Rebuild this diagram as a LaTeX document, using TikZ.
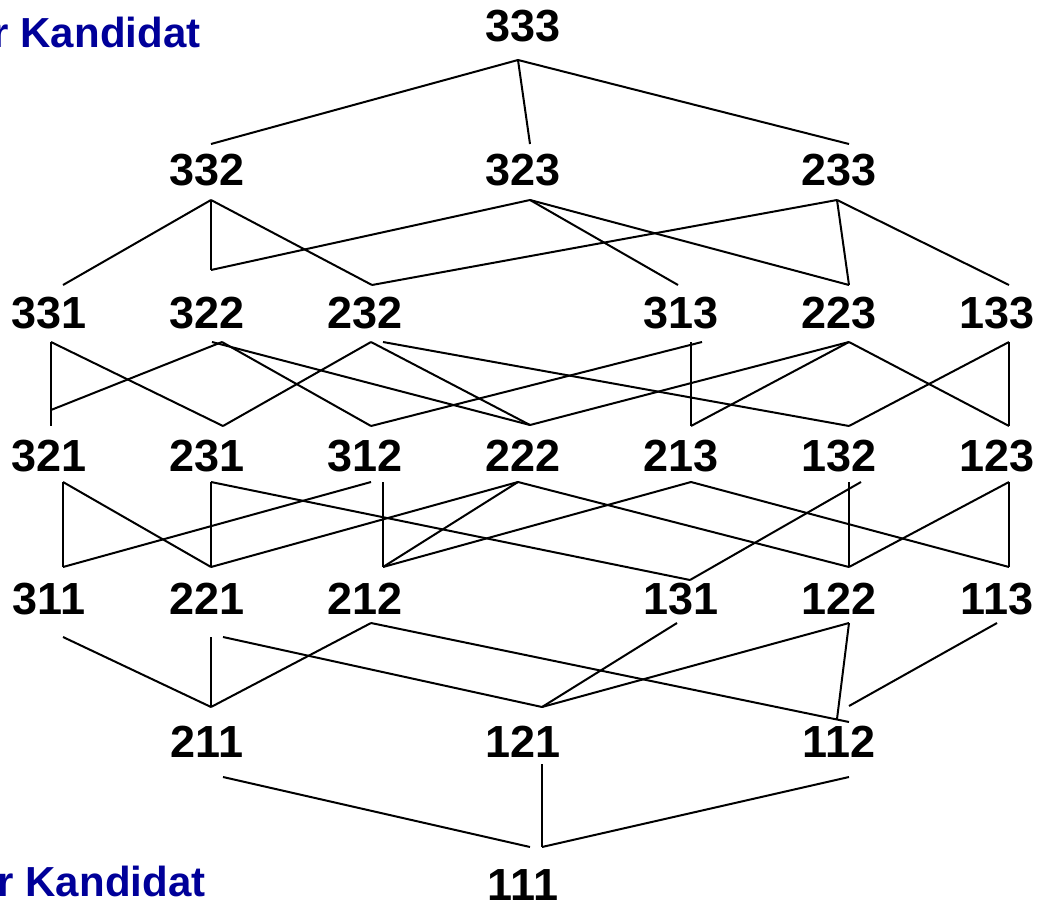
\documentclass[tikz,border=0pt]{standalone}
\usepackage{fontspec}
\setmainfont{Liberation Sans}
\definecolor{kblue}{RGB}{0,0,153}
\newcommand\lnode[7]{%
  \node[num] (n#1) at (#2,#3) {#1};
  \coordinate (t#1) at ([shift={(#4,#5)}]n#1.center);
  \coordinate (b#1) at ([shift={(#6,#7)}]n#1.center);}
\begin{document}
\begin{tikzpicture}[x=1pt,y=-1pt,
  num/.style={font=\fontsize{45}{54}\selectfont\bfseries, inner sep=0pt},
  lbl/.style={font=\fontsize{42}{50}\selectfont\bfseries, text=kblue, inner sep=0pt, anchor=base west},
  edge/.style={line width=2pt, black}]
\useasboundingbox (0,0) rectangle (1039,902);
% blue labels
\node[lbl] (ktop) at (-7.5,47) {r Kandidat};
\node[lbl] (kbot) at (-2.5,896) {r Kandidat};
% row 1
\lnode{333}{523}{26}{0}{0}{-5}{34}
% row 2
\lnode{332}{207}{170}{4}{-26}{4}{30}
\lnode{323}{523}{170}{7}{-26}{7}{30}
\lnode{233}{839}{170}{10}{-26}{-2}{30}
% row 3
\lnode{331}{49}{313}{14}{-28}{2}{29}
\lnode{322}{207}{313}{4}{-43}{15}{29}
\lnode{232}{365}{313}{7}{-28}{6}{29}
\lnode{313}{681}{313}{-3}{-28}{10}{29}
\lnode{223}{839}{313}{10}{-28}{10}{29}
\lnode{133}{997}{313}{12}{-28}{12}{29}
% row 4
\lnode{321}{49}{456}{2}{-30}{14}{26}
\lnode{231}{207}{456}{16}{-30}{4}{26}
\lnode{312}{365}{456}{6}{-30}{6}{26}
\lnode{222}{523}{456}{7}{-31}{-5}{26}
\lnode{213}{681}{456}{10}{-30}{10}{26}
\lnode{132}{839}{456}{10}{-30}{10}{26}
\lnode{123}{997}{456}{12}{-30}{12}{26}
% row 5
\lnode{311}{49}{599}{14}{-32}{14}{38}
\lnode{221}{207}{599}{4}{-32}{4}{38}
\lnode{212}{365}{599}{18}{-32}{6}{24}
\lnode{131}{681}{599}{9}{-19}{-4}{24}
\lnode{122}{839}{599}{10}{-32}{10}{24}
\lnode{113}{997}{599}{12}{-32}{0}{24}
% row 6
\lnode{211}{207}{742}{4}{-35}{16}{35}
\lnode{121}{523}{742}{19}{-35}{19}{22}
\lnode{112}{839}{742}{10}{-36}{10}{35}
% row 7
\lnode{111}{523}{885}{19}{-38}{0}{0}
% edges
\foreach \p/\q in {333/332,333/323,333/233,
  332/331,332/322,332/232,323/322,323/313,323/223,233/232,233/223,233/133,
  331/321,331/231,322/312,232/231,232/222,313/213,223/222,223/213,223/123,133/132,133/123,
  321/311,321/221,231/221,231/131,312/311,222/221,222/212,222/122,213/212,213/113,132/122,123/122,123/113,
  311/211,221/211,212/211,131/121,122/121,113/112,
  121/111,112/111}
  \draw[edge] (b\p) -- (t\q);
\draw[edge] (b322) -- ([yshift=16pt]t321);
\draw[edge] ([xshift=-10pt]b322) -- (t222);
\draw[edge] ([xshift=12pt]b232) -- (t132);
\draw[edge] ([xshift=11pt]b313) -- (t312);
\draw[edge] ([xshift=12pt]b312) -- (t212);
\draw[edge] ([xshift=12pt]b132) -- (t131);
\draw[edge] ([xshift=12pt]b221) -- (t121);
\draw[edge] (b212) -- ([yshift=-16pt]t112);
\draw[edge] (b122) -- ([xshift=-12pt,yshift=-13pt]t112);
\draw[edge] (b211) -- ([xshift=-12pt]t111);
\end{tikzpicture}
\end{document}
